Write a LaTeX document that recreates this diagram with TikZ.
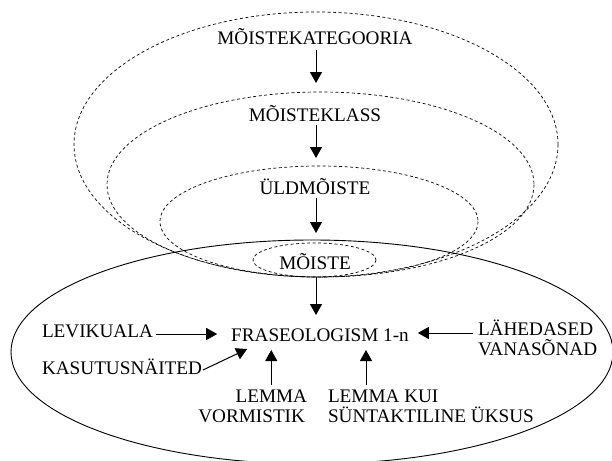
\documentclass[tikz,border=0pt]{standalone}
\usepackage{fontspec}
\setmainfont{Liberation Serif}
\usetikzlibrary{arrows.meta,calc}
\begin{document}
\begin{tikzpicture}[x=1pt,y=-1pt,
  txt/.style={anchor=base,inner sep=0pt,outer sep=0pt,font=\fontsize{19.2}{22}\selectfont},
  arr/.style={line width=1pt,-{Triangle[length=11pt,width=12pt]}},
  dsh/.style={line width=0.7pt,dash pattern=on 3pt off 2.5pt},
  solidell/.style={line width=0.9pt}]
\useasboundingbox (0,0) rectangle (612,460);
% dashed nested ellipses
\draw[dsh] (316,144.5) ellipse [x radius=242, y radius=132.5];
\draw[dsh] (320.5,184.5) ellipse [x radius=213.5, y radius=92.5];
\draw[dsh] (319,221.5) ellipse [x radius=159, y radius=55.5];
\draw[dsh] (314.5,260) ellipse [x radius=61.5, y radius=17];
% solid ellipse
\draw[solidell] (312,352) ellipse [x radius=301, y radius=112];
% texts
\node[txt] (kat) at (315,45) {MÕISTEKATEGOORIA};
\node[txt] (klass) at (315,121) {MÕISTEKLASS};
\node[txt] (uld) at (315,194) {ÜLDMÕISTE};
\node[txt] (moiste) at (315,269) {MÕISTE};
\node[txt] (fras) at (320,341) {FRASEOLOGISM 1-n};
\node[txt,anchor=base west] (lev) at (42,337) {LEVIKUALA};
\node[txt,anchor=base west] (kas) at (42,374) {KASUTUSNÄITED};
\node[txt,anchor=base west] (lah1) at (478,335) {LÄHEDASED};
\node[txt,anchor=base west] (lah2) at (478,355) {VANASÕNAD};
\node[txt,anchor=base east] (lem1) at (307,402) {LEMMA};
\node[txt,anchor=base east] (lem2) at (305,422) {VORMISTIK};
\node[txt,anchor=base west] (kui1) at (328,402) {LEMMA KUI};
\node[txt,anchor=base west] (kui2) at (328,422) {SÜNTAKTILINE ÜKSUS};
% arrows
\draw[arr] ($(kat.base)+(1,5)$) -- ($(klass.base)+(1,-38)$);
\draw[arr] ($(klass.base)+(1,4)$) -- ($(uld.base)+(1,-36)$);
\draw[arr] ($(uld.base)+(1,4)$) -- ($(moiste.base)+(1,-36)$);
\draw[arr] ($(moiste.base)+(1,8)$) -- ($(moiste.base |- fras.base)+(1,-26)$);
\draw[arr] ($(lev.base east)+(3,-3)$) -- ($(lev.base east -| fras.base west)+(-14,-3)$);
\draw[arr] ($(kas.base east)+(1,-4)$) -- ($(fras.base west)+(16,8)$);
\draw[arr] ($(lem1.base)+(0,-17)$) -- ($(lem1.base |- fras.base)+(0,9)$);
\draw[arr] ($(kui1.base west)+(38,-17)$) -- ($(kui1.base west |- fras.base)+(38,9)$);
\draw[arr] ($(lah1.base west)+(-5,-2)$) -- ($(fras.base east)+(9,-8)$);
\end{tikzpicture}
\end{document}
